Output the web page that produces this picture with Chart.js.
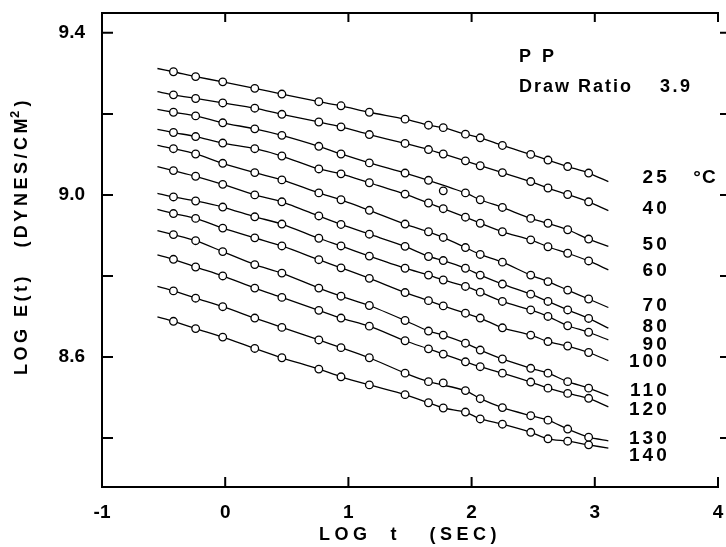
<!DOCTYPE html>
<html>
<head>
<meta charset="utf-8">
<script src="https://cdn.jsdelivr.net/npm/chart.js@4.4.1/dist/chart.umd.min.js"></script>
<style>
  html, body { margin: 0; padding: 0; background: #fff; }
  #wrap { width: 726px; height: 547px; }
</style>
</head>
<body>
<div id="wrap"><canvas id="relaxChart" width="726" height="547"></canvas></div>
<script>
// log t (sec) of the measured points
const logT = [-0.42, -0.24, -0.02, 0.24, 0.46, 0.76, 0.94, 1.17, 1.46, 1.65, 1.77, 1.95, 2.07, 2.25, 2.48, 2.62, 2.78, 2.95];

// temperatures (°C)
const temps = ["25", "40", "50", "60", "70", "80", "90", "100", "110", "120", "130", "140"];

// log E(t)
const logE25 = [9.304, 9.292, 9.279, 9.263, 9.249, 9.230, 9.220, 9.204, 9.187, 9.172, 9.166, 9.150, 9.141, 9.122, 9.100, 9.086, 9.070, 9.054];
const logE40 = [9.247, 9.238, 9.227, 9.214, 9.199, 9.180, 9.168, 9.149, 9.127, 9.112, 9.101, 9.084, 9.072, 9.055, 9.033, 9.017, 9.001, 8.983];
const logE50 = [9.204, 9.195, 9.178, 9.163, 9.147, 9.120, 9.101, 9.079, 9.054, 9.036, 9.010, 9.005, 8.988, 8.969, 8.942, 8.930, 8.914, 8.891];
const logE60 = [9.154, 9.144, 9.128, 9.114, 9.096, 9.064, 9.052, 9.030, 9.002, 8.980, 8.966, 8.945, 8.930, 8.909, 8.889, 8.872, 8.856, 8.837];
const logE70 = [9.114, 9.101, 9.078, 9.055, 9.037, 9.005, 8.988, 8.962, 8.928, 8.909, 8.895, 8.870, 8.853, 8.834, 8.802, 8.786, 8.765, 8.743];
const logE80 = [9.060, 9.046, 9.026, 9.000, 8.983, 8.948, 8.927, 8.903, 8.873, 8.848, 8.838, 8.819, 8.802, 8.780, 8.755, 8.737, 8.716, 8.695];
const logE90 = [8.995, 8.985, 8.970, 8.946, 8.928, 8.893, 8.874, 8.849, 8.819, 8.802, 8.790, 8.774, 8.760, 8.737, 8.716, 8.700, 8.677, 8.661];
const logE100 = [8.954, 8.942, 8.918, 8.894, 8.874, 8.840, 8.820, 8.794, 8.759, 8.739, 8.726, 8.708, 8.696, 8.672, 8.654, 8.638, 8.627, 8.611];
const logE110 = [8.902, 8.887, 8.860, 8.828, 8.807, 8.770, 8.750, 8.727, 8.690, 8.664, 8.654, 8.634, 8.617, 8.595, 8.572, 8.560, 8.539, 8.523];
const logE120 = [8.841, 8.822, 8.800, 8.770, 8.747, 8.715, 8.696, 8.676, 8.640, 8.620, 8.607, 8.588, 8.576, 8.560, 8.538, 8.523, 8.510, 8.498];
const logE130 = [8.763, 8.745, 8.724, 8.696, 8.673, 8.642, 8.623, 8.598, 8.560, 8.539, 8.536, 8.517, 8.497, 8.475, 8.455, 8.444, 8.422, 8.402];
const logE140 = [8.688, 8.670, 8.649, 8.621, 8.598, 8.570, 8.551, 8.531, 8.507, 8.487, 8.474, 8.464, 8.447, 8.434, 8.414, 8.398, 8.392, 8.383];
const isotherms = [logE25, logE40, logE50, logE60, logE70, logE80, logE90, logE100, logE110, logE120, logE130, logE140];

// points that sit off the drawn curve (isotherm index -> point index)
const offCurve = { 2: [10], 10: [10] };

// where the drawn curves begin and end
const curveStartT = -0.55;
const curveEndT = 3.11;
const curveStartE = [9.312, 9.255, 9.211, 9.162, 9.122, 9.070, 9.004, 8.964, 8.912, 8.852, 8.774, 8.699];
const curveEndE = [9.033, 8.961, 8.873, 8.815, 8.722, 8.671, 8.642, 8.591, 8.504, 8.477, 8.393, 8.375];

// temperature labels on the right (log E level of each label)
const tempLabelE = [9.042, 8.965, 8.877, 8.813, 8.726, 8.675, 8.631, 8.588, 8.516, 8.469, 8.399, 8.356];

// axis ticks
const xTicks = [-1, 0, 1, 2, 3, 4];
const yTicks = [8.4, 8.6, 8.8, 9.0, 9.2, 9.4];
const yLabelled = ["8.6", "9.0", "9.4"];

const FONT = "'Liberation Sans', 'DejaVu Sans', sans-serif";

// drawn curves (under) and measured points (on top)
const datasets = [];
isotherms.forEach((vals, i) => {
    const skip = offCurve[i] || [];
    const curve = [{ x: curveStartT, y: curveStartE[i] }];
    logT.forEach((t, j) => { if (!skip.includes(j)) curve.push({ x: t, y: vals[j] }); });
    curve.push({ x: curveEndT, y: curveEndE[i] });
    datasets.push({
        label: temps[i] + " °C curve",
        data: curve,
        showLine: true,
        borderColor: "#000",
        borderWidth: 1.3,
        tension: 0.25,
        pointRadius: 0,
        order: 2
    });
    datasets.push({
        label: temps[i] + " °C",
        data: logT.map((t, j) => ({ x: t, y: vals[j] })),
        showLine: false,
        pointRadius: 3.8,
        pointBackgroundColor: "#fff",
        pointBorderColor: "#000",
        pointBorderWidth: 1.3,
        order: 1
    });
});

function spacedText(ctx, text, x, y, spacing) {
    ctx.letterSpacing = spacing + "px";
    ctx.fillText(text, x, y);
    ctx.letterSpacing = "0px";
}

// tick labels should not push the plot area in
function noLabelPadding(s) {
    s.paddingTop = 0;
    s.paddingBottom = 0;
    s.paddingLeft = 0;
    s.paddingRight = 0;
}

// frame, inward ticks, titles and text labels
const framePlugin = {
    id: "frame",
    afterDatasetsDraw(chart) {
        const { ctx, chartArea: a, scales: { x, y } } = chart;
        ctx.save();
        ctx.strokeStyle = "#000";
        ctx.fillStyle = "#000";
        ctx.lineWidth = 2;

        // top border
        ctx.beginPath();
        ctx.moveTo(a.left - 1, a.top);
        ctx.lineTo(a.right + 1, a.top);
        ctx.stroke();

        ctx.beginPath();
        xTicks.forEach(v => {
            if (v <= x.min) return;
            const px = x.getPixelForValue(v);
            ctx.moveTo(px, a.bottom);
            ctx.lineTo(px, a.bottom - 10);
            ctx.moveTo(px, a.top);
            ctx.lineTo(px, a.top + 9);
        });
        yTicks.forEach(v => {
            const py = y.getPixelForValue(v);
            ctx.moveTo(a.left, py);
            ctx.lineTo(a.left + 11, py);
            ctx.moveTo(a.right + 2, py);
            ctx.lineTo(a.right + 8, py);
        });
        ctx.stroke();

        // annotation
        ctx.textBaseline = "middle";
        ctx.textAlign = "left";
        ctx.font = "bold 18px " + FONT;
        spacedText(ctx, "P P", 519, 57, 3);
        spacedText(ctx, "Draw Ratio", 519, 87, 2);
        spacedText(ctx, "3.9", 660, 87, 2.5);

        // temperature labels
        ctx.font = "bold 19px " + FONT;
        ctx.textAlign = "right";
        const labelRight = x.getPixelForValue(3.6) + 1;
        temps.forEach((t, i) => {
            spacedText(ctx, t, labelRight, y.getPixelForValue(tempLabelE[i]), 3);
        });
        ctx.textAlign = "left";
        spacedText(ctx, "°C", x.getPixelForValue(3.8), y.getPixelForValue(tempLabelE[0]), 1);

        // x title
        ctx.font = "bold 18px " + FONT;
        ctx.textAlign = "center";
        spacedText(ctx, "LOG  t   (SEC)", (a.left + a.right) / 2, 535, 4.5);

        // y title with superscript 2
        ctx.save();
        ctx.translate(22, 235);
        ctx.rotate(-Math.PI / 2);
        ctx.textAlign = "left";
        ctx.letterSpacing = "3.5px";
        const main = "LOG E(t)   (DYNES/CM";
        ctx.font = "bold 18px " + FONT;
        const w1 = ctx.measureText(main).width;
        ctx.font = "bold 13px " + FONT;
        const w2 = ctx.measureText("2").width;
        ctx.font = "bold 18px " + FONT;
        const w3 = ctx.measureText(")").width;
        let sx = -(w1 + w2 + w3) / 2;
        ctx.fillText(main, sx, 0);
        sx += w1;
        ctx.font = "bold 13px " + FONT;
        ctx.fillText("2", sx - 3, -7);
        sx += w2;
        ctx.font = "bold 18px " + FONT;
        ctx.fillText(")", sx - 2, 0);
        ctx.restore();

        ctx.restore();
    }
};

const ctx = document.getElementById("relaxChart").getContext("2d");
const relaxChart = new Chart(ctx, {
    type: "scatter",
    data: { datasets: datasets },
    options: {
        responsive: false,
        animation: false,
        layout: { padding: { top: 13, right: 8, left: 0, bottom: 0 } },
        plugins: {
            legend: { display: false },
            tooltip: { enabled: false }
        },
        scales: {
            x: {
                type: "linear",
                min: -1,
                max: 4,
                afterBuildTicks: (s) => { s.ticks = xTicks.map(v => ({ value: v })); },
                afterFit: (s) => { s.height = 60; noLabelPadding(s); },
                grid: { display: false, drawTicks: false },
                border: { display: true, color: "#000", width: 2 },
                ticks: {
                    color: "#000",
                    padding: 14,
                    font: { family: FONT, size: 19, weight: "bold" },
                    callback: (v) => String(v)
                }
            },
            y: {
                type: "linear",
                min: 8.279,
                max: 9.449,
                afterBuildTicks: (s) => { s.ticks = yTicks.map(v => ({ value: v })); },
                afterFit: (s) => { s.width = 102; noLabelPadding(s); },
                grid: { display: false, drawTicks: false },
                border: { display: true, color: "#000", width: 2 },
                ticks: {
                    color: "#000",
                    padding: 17,
                    font: { family: FONT, size: 19, weight: "bold" },
                    callback: (v) => {
                        const s = v.toFixed(1);
                        return yLabelled.includes(s) ? s : "";
                    }
                }
            }
        }
    },
    plugins: [framePlugin]
});
</script>
</body>
</html>
